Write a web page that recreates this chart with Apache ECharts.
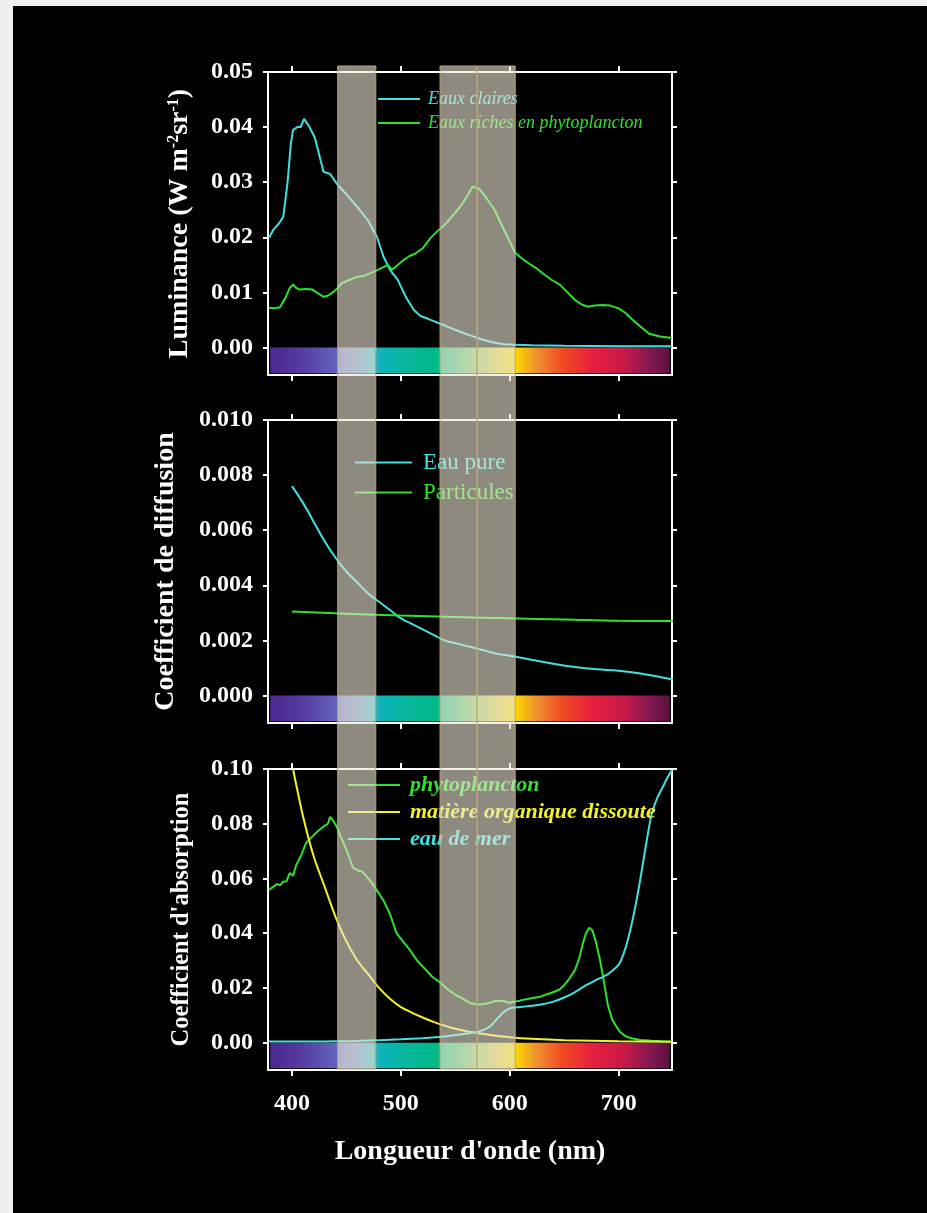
<!DOCTYPE html>
<html><head><meta charset="utf-8">
<script src="https://cdn.jsdelivr.net/npm/echarts@6/dist/echarts.min.js"></script>
<style>
html,body{margin:0;padding:0;background:#f0f0f0;overflow:hidden;}
#bg{position:absolute;left:13px;top:6px;width:914px;height:1207px;background:#000;}
#chart{position:absolute;left:0;top:0;width:927px;height:1213px;}
</style></head><body><div id="bg"></div><div id="chart"></div>
<script>
// ---------- DATA ----------
const xTickValues = [400, 500, 600, 700];
const lumTicks = [0, 0.01, 0.02, 0.03, 0.04, 0.05];
const diffTicks = [0, 0.002, 0.004, 0.006, 0.008, 0.010];
const absTicks = [0, 0.02, 0.04, 0.06, 0.08, 0.10];

// Highlighted wavelength bands (nm)
const bands = [[442, 477], [536, 570], [570, 605]];

// Visible spectrum colour bar
const spectrumRange = [380, 747];
const spectrumNm = [380, 410, 440, 458, 472, 485, 505, 530, 550, 570, 590, 606, 625, 648, 675, 705, 730, 747];
const spectrumColors = ['#4a2890', '#583ca2', '#6262bc', '#6a86cc', '#30b0c8', '#08b4b8', '#08b89c', '#00b88a', '#30bc78', '#90c860', '#d8d040', '#f8d600', '#f09030', '#f04c22', '#e8203e', '#c81848', '#801850', '#5c1040'];

// Panel 1 : Luminance
const clearNm = [379, 383, 388, 392, 396, 399, 401, 405, 408, 411, 415, 421, 425, 429, 435, 442, 450, 460, 470, 478, 484, 490, 497, 505, 512, 518, 525, 535, 545, 555, 565, 575, 585, 595, 605, 620, 650, 700, 749];
const clearVal = [0.0199, 0.0214, 0.0225, 0.0237, 0.030, 0.037, 0.0395, 0.0400, 0.0400, 0.0415, 0.0404, 0.0381, 0.0350, 0.0319, 0.0315, 0.0295, 0.0278, 0.0255, 0.0230, 0.0201, 0.0165, 0.0141, 0.0123, 0.0090, 0.0068, 0.0057, 0.0052, 0.0044, 0.0036, 0.0028, 0.0021, 0.0014, 0.0009, 0.0006, 0.0005, 0.0004, 0.0003, 0.0002, 0.0002];
const richNm = [379, 384, 389, 394, 398, 401, 404, 407, 413, 419, 424, 429, 433, 437, 442, 446, 452, 460, 466, 472, 478, 484, 488, 492, 496, 502, 508, 513, 520, 527, 534, 540, 547, 554, 560, 566, 572, 579, 586, 592, 598, 605, 612, 618, 625, 632, 639, 646, 653, 660, 666, 672, 678, 685, 692, 700, 706, 713, 720, 728, 738, 749];
const richVal = [0.0072, 0.0071, 0.0073, 0.0090, 0.0108, 0.0114, 0.0108, 0.0105, 0.0106, 0.0105, 0.0098, 0.0092, 0.0094, 0.0099, 0.0108, 0.0117, 0.0122, 0.0128, 0.0130, 0.0135, 0.0140, 0.0146, 0.0150, 0.0141, 0.0148, 0.0158, 0.0166, 0.0170, 0.0180, 0.0198, 0.0212, 0.0222, 0.0238, 0.0254, 0.0272, 0.0292, 0.0288, 0.0270, 0.0250, 0.0225, 0.0200, 0.0172, 0.0160, 0.0152, 0.0143, 0.0132, 0.0122, 0.0114, 0.0100, 0.0086, 0.0078, 0.0074, 0.0076, 0.0077, 0.0076, 0.0071, 0.0063, 0.0050, 0.0038, 0.0025, 0.0020, 0.0017];

// Panel 2 : Diffusion
const pureNm = [400, 410, 420, 430, 440, 450, 460, 470, 480, 490, 500, 510, 520, 530, 540, 550, 560, 570, 580, 590, 600, 620, 640, 660, 680, 700, 720, 750];
const pureVal = [0.0076, 0.0070, 0.0063, 0.0056, 0.0050, 0.0045, 0.0041, 0.0037, 0.0034, 0.0031, 0.0028, 0.0026, 0.0024, 0.0022, 0.0020, 0.0019, 0.0018, 0.0017, 0.0016, 0.0015, 0.00144, 0.0013, 0.00115, 0.00103, 0.00095, 0.0009, 0.0008, 0.00058];
const partNm = [400, 450, 500, 550, 600, 650, 700, 750];
const partVal = [0.00305, 0.00297, 0.00290, 0.00285, 0.00280, 0.00276, 0.00271, 0.00270];

// Panel 3 : Absorption
const phytoNm = [379, 383, 386, 389, 392, 395, 398, 401, 404, 408, 413, 418, 423, 429, 433, 435, 438, 441, 445, 450, 456, 460, 465, 470, 474, 479, 484, 490, 496, 502, 508, 515, 522, 529, 536, 543, 550, 557, 563, 568, 572, 577, 582, 587, 591, 596, 600, 605, 609, 614, 620, 628, 635, 641, 646, 650, 655, 660, 664, 667, 670, 673, 676, 679, 683, 687, 690, 694, 698, 701, 707, 713, 720, 730, 740, 749];
const phytoVal = [0.0558, 0.057, 0.058, 0.0575, 0.0588, 0.059, 0.062, 0.061, 0.065, 0.068, 0.073, 0.075, 0.077, 0.079, 0.080, 0.0825, 0.081, 0.079, 0.075, 0.0705, 0.064, 0.063, 0.0624, 0.060, 0.058, 0.055, 0.052, 0.047, 0.040, 0.037, 0.034, 0.030, 0.027, 0.024, 0.022, 0.0195, 0.0175, 0.016, 0.0146, 0.0140, 0.0139, 0.0142, 0.0146, 0.0152, 0.0153, 0.0150, 0.0146, 0.0150, 0.0153, 0.0158, 0.0162, 0.0168, 0.0178, 0.0186, 0.0195, 0.021, 0.0235, 0.0266, 0.031, 0.036, 0.040, 0.042, 0.041, 0.037, 0.030, 0.021, 0.0139, 0.0085, 0.0058, 0.0040, 0.0022, 0.0015, 0.0010, 0.0007, 0.0005, 0.0004];
const cdomNm = [401, 410, 420, 430, 440, 450, 460, 470, 480, 490, 500, 510, 520, 530, 540, 550, 560, 570, 580, 600, 620, 650, 700, 749];
const cdomVal = [0.100, 0.083, 0.068, 0.057, 0.046, 0.037, 0.030, 0.025, 0.020, 0.016, 0.013, 0.011, 0.0092, 0.0076, 0.0062, 0.0051, 0.0042, 0.0035, 0.0029, 0.0020, 0.0014, 0.0009, 0.0005, 0.0003];
const seaNm = [379, 400, 420, 440, 460, 480, 500, 520, 540, 555, 565, 575, 582, 588, 594, 600, 610, 620, 630, 640, 650, 660, 670, 680, 690, 700, 705, 710, 715, 720, 725, 730, 735, 740, 745, 749];
const seaVal = [0.0004, 0.0004, 0.0004, 0.0005, 0.0006, 0.0009, 0.0012, 0.0016, 0.0022, 0.0030, 0.0036, 0.0045, 0.0060, 0.0085, 0.0110, 0.0125, 0.0130, 0.0135, 0.0140, 0.0150, 0.0165, 0.0185, 0.0210, 0.0230, 0.0250, 0.0285, 0.0330, 0.0400, 0.0490, 0.0600, 0.0720, 0.0830, 0.0890, 0.0930, 0.0970, 0.0996];

// ---------- CHART ----------
const FONT = '"Liberation Serif","Times New Roman",serif';
const CYAN = '#40e0e0', GREEN = '#2ee02e', YELLOW = '#f2f226';
const X_MIN = 378, X_MAX = 749;
const zip = (a, b) => a.map((v, i) => [v, b[i]]);

const panels = [
  { top: 72, height: 303, yMin: -0.005, yMax: 0.05, ticks: lumTicks, dec: 2 },
  { top: 420, height: 303, yMin: -0.001, yMax: 0.010, ticks: diffTicks, dec: 3 },
  { top: 769, height: 301, yMin: -0.01, yMax: 0.10, ticks: absTicks, dec: 2 }
];

const grids = [], xAxes = [], yAxes = [], series = [];
const axisLine = { show: true, onZero: false, lineStyle: { color: '#fff', width: 2 } };
const tickStyle = { color: '#fff', width: 2 };

panels.forEach((p, i) => {
  grids.push({ left: 268, width: 404, top: p.top, height: p.height, outerBoundsMode: 'none' });
  ['bottom', 'top'].forEach(pos => {
    const lbl = (i === 2 && pos === 'bottom');
    const ax = {
      type: 'value', gridIndex: i, position: pos, min: X_MIN, max: X_MAX,
      axisLine: axisLine, splitLine: { show: false },
      axisTick: { show: true, length: 6, customValues: xTickValues, lineStyle: tickStyle },
      axisLabel: { show: lbl, customValues: xTickValues, color: '#fff', fontFamily: FONT, fontWeight: 'bold', fontSize: 24, margin: 22 }
    };
    if (lbl) {
      ax.name = "Longueur d'onde (nm)";
      ax.nameLocation = 'middle';
      ax.nameGap = 68;
      ax.nameTextStyle = { color: '#fff', fontFamily: FONT, fontWeight: 'bold', fontSize: 28 };
    }
    xAxes.push(ax);
  });
  ['left', 'right'].forEach(pos => {
    const lbl = pos === 'left';
    yAxes.push({
      type: 'value', gridIndex: i, position: pos, min: p.yMin, max: p.yMax,
      axisLine: axisLine, splitLine: { show: false },
      axisTick: { show: true, length: 5, customValues: p.ticks, lineStyle: tickStyle },
      axisLabel: { show: lbl, customValues: p.ticks, color: '#fff', fontFamily: FONT, fontWeight: 'bold', fontSize: 24, margin: 15,
        formatter: v => v.toFixed(p.dec) }
    });
  });
});

// y axis titles
yAxes[0].name = '{a|Luminance (W m}{s|-2}{a|sr}{s|-1}{a|)}';
yAxes[0].nameLocation = 'middle'; yAxes[0].nameGap = 74;
yAxes[0].nameTextStyle = { color: '#fff', rich: {
  a: { color: '#fff', fontFamily: FONT, fontWeight: 'bold', fontSize: 28 },
  s: { color: '#fff', fontFamily: FONT, fontWeight: 'bold', fontSize: 16, verticalAlign: 'top' } } };
yAxes[2].name = 'Coefficient de diffusion';
yAxes[2].nameLocation = 'middle'; yAxes[2].nameGap = 88;
yAxes[2].nameTextStyle = { color: '#fff', fontFamily: FONT, fontWeight: 'bold', fontSize: 28 };
yAxes[4].name = "Coefficient d'absorption";
yAxes[4].nameLocation = 'middle'; yAxes[4].nameGap = 74;
yAxes[4].nameTextStyle = { color: '#fff', fontFamily: FONT, fontWeight: 'bold', fontSize: 24.5 };

// overlay grid for the highlighted bands
grids.push({ left: 268, width: 404, top: 66, height: 1003, outerBoundsMode: 'none' });
xAxes.push({ type: 'value', gridIndex: 3, min: X_MIN, max: X_MAX, show: false });
yAxes.push({ type: 'value', gridIndex: 3, min: 0, max: 1, show: false });

// spectrum colour bars
const stops = spectrumNm.map((nm, k) => ({ offset: (nm - spectrumRange[0]) / (spectrumRange[1] - spectrumRange[0]), color: spectrumColors[k] }));
panels.forEach((p, i) => {
  series.push({
    type: 'custom', xAxisIndex: 2 * i, yAxisIndex: 2 * i, z: 1, silent: true,
    data: [[spectrumRange[0], 0, spectrumRange[1]]],
    renderItem: (params, api) => {
      const a = api.coord([api.value(0), 0]);
      const b = api.coord([api.value(2), p.yMin * 0.94]);
      return { type: 'rect', shape: { x: a[0], y: a[1], width: b[0] - a[0], height: b[1] - a[1] },
        style: { fill: new echarts.graphic.LinearGradient(0, 0, 1, 0, stops) } };
    }
  });
});

function line(name, color, xi, nm, val, smooth) {
  return { name, type: 'line', xAxisIndex: xi, yAxisIndex: xi, data: zip(nm, val), color,
    showSymbol: false, symbol: 'none', smooth: smooth || false, z: 3,
    lineStyle: { color, width: 2 } };
}
series.push(line('Eaux claires', CYAN, 0, clearNm, clearVal));
series.push(line('Eaux riches en phytoplancton', GREEN, 0, richNm, richVal));
series.push(line('Eau pure', CYAN, 2, pureNm, pureVal, 0.4));
series.push(line('Particules', GREEN, 2, partNm, partVal, 0.4));
series.push(line('phytoplancton', GREEN, 4, phytoNm, phytoVal));
series.push(line('matière organique dissoute', YELLOW, 4, cdomNm, cdomVal, 0.3));
series.push(line('eau de mer', CYAN, 4, seaNm, seaVal, 0.2));

// bands overlay (on top)
series.push({
  type: 'custom', xAxisIndex: 6, yAxisIndex: 6, z: 30, silent: true,
  data: bands,
  renderItem: (params, api) => {
    const a = api.coord([api.value(0), 1]);
    const b = api.coord([api.value(1), 0]);
    return { type: 'rect', shape: { x: a[0], y: a[1], width: b[0] - a[0], height: b[1] - a[1] },
      style: { fill: 'rgba(238,230,212,0.6)', stroke: '#b8a470', lineWidth: 1 } };
  }
});

const legendBase = { orient: 'vertical', icon: 'rect', itemHeight: 2, selectedMode: false, z: 5, padding: 0 };
const legends = [
  Object.assign({}, legendBase, { left: 378, top: 90, itemWidth: 42, itemGap: 6,
    textStyle: { fontFamily: FONT, fontStyle: 'italic', fontSize: 18, padding: [0, 0, 0, 3] },
    data: [{ name: 'Eaux claires', textStyle: { color: CYAN } }, { name: 'Eaux riches en phytoplancton', textStyle: { color: GREEN } }] }),
  Object.assign({}, legendBase, { left: 355, top: 451, itemWidth: 57, itemGap: 7,
    textStyle: { fontFamily: FONT, fontSize: 23, padding: [0, 0, 0, 6] },
    data: [{ name: 'Eau pure', textStyle: { color: CYAN } }, { name: 'Particules', textStyle: { color: GREEN } }] }),
  Object.assign({}, legendBase, { left: 348, top: 774, itemWidth: 52, itemGap: 5,
    textStyle: { fontFamily: FONT, fontStyle: 'italic', fontWeight: 'bold', fontSize: 22, padding: [0, 0, 0, 5] },
    data: [{ name: 'phytoplancton', textStyle: { color: GREEN } }, { name: 'matière organique dissoute', textStyle: { color: YELLOW } }, { name: 'eau de mer', textStyle: { color: CYAN } }] })
];

const chart = echarts.init(document.getElementById('chart'), null, { renderer: 'canvas' });
chart.setOption({
  backgroundColor: 'transparent',
  animation: false,
  grid: grids, xAxis: xAxes, yAxis: yAxes, legend: legends, series: series
});
</script></body></html>
